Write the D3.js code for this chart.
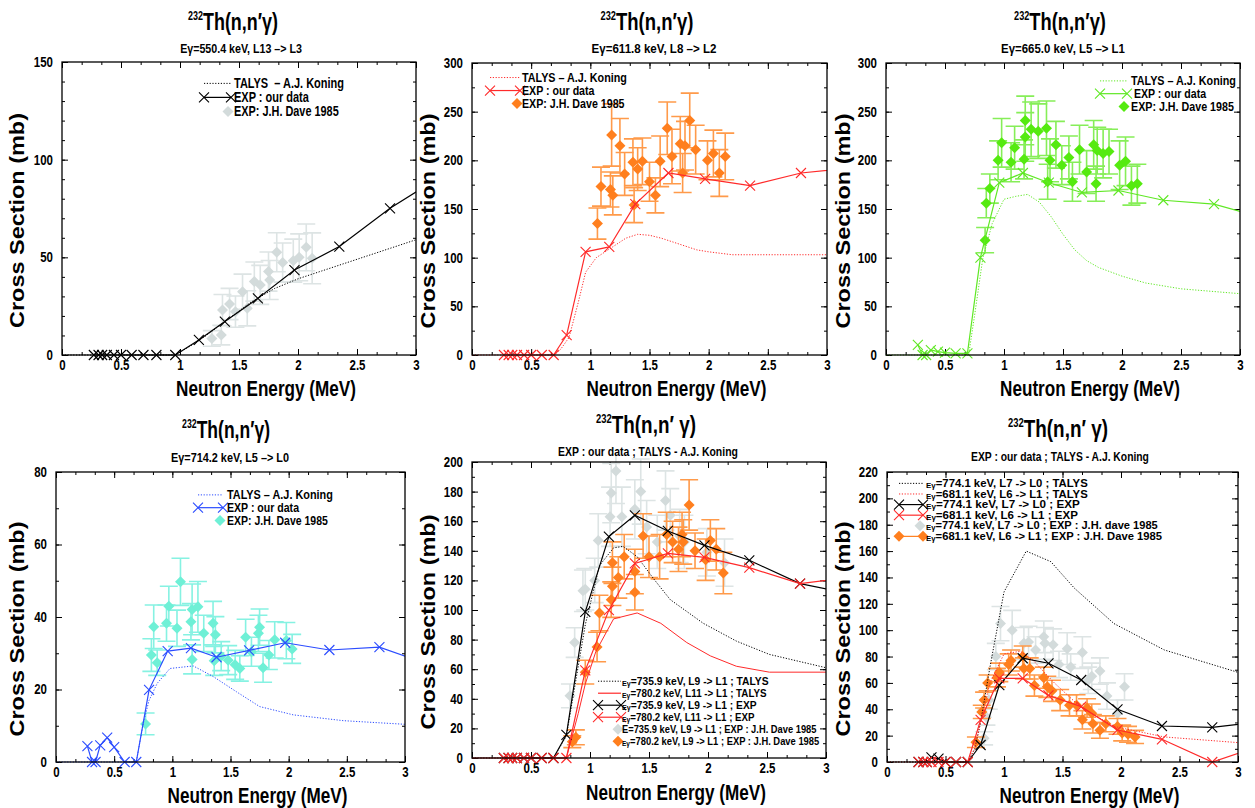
<!DOCTYPE html>
<html>
<head>
<meta charset="utf-8">
<script src="https://cdn.jsdelivr.net/npm/d3@7"></script>
<style>
  body { margin: 0; background: #fff; }
  svg text { font-family: "Liberation Sans", Arial, sans-serif; font-weight: bold; fill: #000; white-space: pre; }
  .axis text { font-size: 14px; }
</style>
</head>
<body>
<svg id="chart" width="1255" height="808"></svg>
<script>
// 232Th(n,n'g) cross sections, six panels.
var X_TICKS = [0, 0.5, 1, 1.5, 2, 2.5, 3];
var X_LABELS = ["0", "0.5", "1", "1.5", "2", "2.5", "3"];

// neutron energies of "our data" (last point lies past the axis end, line runs to the frame)
var EXP_E = [0.27, 0.31, 0.34, 0.38, 0.44, 0.50, 0.59, 0.69, 0.80, 0.96, 1.16, 1.38, 1.66, 1.97, 2.35, 2.78, 3.2];

// panel 1 : Eg=550.4 keV
var P1_EXP = [0, 0, 0, 0, 0, 0, 0, 0, 0, 0, 7.7, 17.1, 29.0, 43.5, 55.5, 75.1, 91];
var P1_TALYS_E = [0, 0.96, 1.1, 1.2, 1.4, 1.6, 1.8, 2.0, 2.2, 2.4, 2.6, 2.8, 3.0];
var P1_TALYS = [0, 0, 5, 9, 18, 27, 34, 39, 43, 47, 51, 55, 59];
var P1_DAVE_E = [1.27, 1.35, 1.36, 1.42, 1.47, 1.53, 1.57, 1.63, 1.68, 1.75, 1.76, 1.82, 1.87, 1.96, 2.01, 2.07, 2.12];
var P1_DAVE = [8.5, 10.2, 23.0, 26.1, 22.2, 32.4, 23.9, 37.6, 35.9, 42.7, 38.4, 52.6, 47.3, 48.3, 50.0, 55.1, 49.5];
var P1_DAVE_ERR = [4, 5, 8, 8, 8, 9, 9, 10, 10, 10, 10, 10, 10, 11, 12, 12, 13];

// panel 2 : Eg=611.8 keV
var P2_EXP = [0, 0, 0, 0, 0, 0, 0, 0, 20.5, 106, 111, 155, 187, 181, 174, 187, 192];
var P2_TALYS_E = [0, 0.70, 0.75, 0.82, 0.9, 0.96, 1.05, 1.2, 1.3, 1.4, 1.5, 1.6, 1.7, 1.8, 1.9, 2.0, 2.2, 2.5, 3.0];
var P2_TALYS = [0, 0, 6, 18, 55, 85, 100, 112, 120, 124, 123, 120, 116, 112, 108, 106, 103, 103, 103];
var P2_DAVE_E = [1.06, 1.09, 1.17, 1.18, 1.19, 1.25, 1.29, 1.36, 1.37, 1.40, 1.44, 1.50, 1.55, 1.59, 1.65, 1.69, 1.76, 1.78, 1.80, 1.84, 1.89, 1.99, 2.04, 2.09, 2.14];
var P2_DAVE = [135, 173, 170, 226, 164, 215, 186, 198, 154, 191, 199, 178, 164, 199, 233, 204, 217, 187, 215, 241, 211, 200, 207, 187, 204];
var P2_DAVE_ERR = [16, 20, 18, 32, 20, 28, 22, 24, 18, 22, 24, 20, 18, 26, 27, 28, 28, 20, 25, 28, 25, 20, 24, 24, 24];

// panel 3 : Eg=665.0 keV
var P3_EXP = [10.3, 0, 0, 5.1, 3.4, 2.4, 1.7, 1.7, 100, 177, 187, 177, 167, 169, 159, 155, 141];
var P3_TALYS_E = [0, 0.70, 0.75, 0.82, 0.9, 1.0, 1.1, 1.2, 1.3, 1.4, 1.5, 1.6, 1.7, 1.8, 2.0, 2.2, 2.5, 2.8, 3.0];
var P3_TALYS = [0, 0, 40, 99, 135, 160, 163, 165, 157, 142, 124, 108, 97, 90, 81, 74, 68, 65, 63];
var P3_DAVE_E = [0.84, 0.85, 0.88, 0.95, 0.98, 1.06, 1.09, 1.17, 1.18, 1.18, 1.23, 1.29, 1.36, 1.37, 1.39, 1.44, 1.49, 1.55, 1.58, 1.64, 1.70, 1.76, 1.78, 1.79, 1.84, 1.89, 1.98, 2.03, 2.08, 2.13];
var P3_DAVE = [118, 156, 171, 200, 218, 198, 213, 201, 224, 241, 232, 230, 233, 178, 200, 216, 195, 203, 178, 211, 188, 216, 176, 210, 207, 209, 195, 199, 174, 176];
var P3_DAVE_ERR = [13, 15, 15, 20, 25, 20, 22, 20, 25, 25, 28, 28, 28, 18, 22, 24, 20, 22, 20, 25, 22, 25, 18, 24, 25, 23, 25, 25, 20, 20];

// panel 4 : Eg=714.2 keV
var P4_EXP = [4.4, 0, 0, 4.6, 6.7, 4.1, 0, 0, 19.9, 30.6, 31.4, 28.9, 30.8, 32.9, 30.9, 31.7, 27];
var P4_TALYS_E = [0, 0.69, 0.75, 0.8, 0.87, 0.98, 1.18, 1.35, 1.55, 1.75, 2.04, 2.47, 3.0];
var P4_TALYS = [0, 0, 10.7, 17, 21.7, 25.8, 26.5, 23.6, 19.4, 15.3, 13, 11.4, 10.4];
var P4_DAVE_E = [0.77, 0.82, 0.84, 0.87, 0.95, 0.97, 1.04, 1.07, 1.16, 1.17, 1.17, 1.22, 1.27, 1.35, 1.36, 1.37, 1.42, 1.48, 1.54, 1.58, 1.63, 1.68, 1.74, 1.75, 1.78, 1.83, 1.88, 1.98, 2.03];
var P4_DAVE = [10.5, 29.5, 37.3, 27.4, 38.3, 43.0, 36.9, 49.7, 38.7, 42.1, 28.3, 42.8, 35.5, 38.3, 27.9, 35.1, 29.2, 28.1, 26.8, 25.8, 34.4, 30.4, 35.5, 37.2, 26.0, 29.5, 33.7, 33.5, 31.2];
var P4_DAVE_ERR = [3, 4.5, 6, 3.5, 5, 5.5, 5, 6.5, 5, 7, 4, 7, 5, 6, 4, 5, 4, 4, 4, 3.5, 5, 4, 5, 5, 4, 4, 5, 5, 4];

// panel 5 : Eg=735.9 keV (black) and 780.2 keV (red)
var P5_EXP_A = [0, 0, 0, 0, 0, 0, 0, 0, 15.6, 98.8, 149.6, 164, 153.4, 143.7, 133.6, 117.8, 111];
var P5_EXP_B = [0, 0, 0, 0, 0, 0, 0, 0, 0, 59.2, 99.9, 131.5, 138.3, 135.6, 128.6, 117.8, 122];
var P5_TALYS_A_E = [0, 0.69, 0.80, 0.96, 1.08, 1.2, 1.28, 1.4, 1.54, 1.68, 1.96, 2.24, 2.52, 3.0];
var P5_TALYS_A = [0, 0, 15, 90, 130, 142, 143, 136, 121, 107, 91, 79, 70, 61];
var P5_TALYS_B_E = [0, 0.80, 0.9, 0.96, 1.05, 1.2, 1.4, 1.6, 1.82, 2.02, 2.24, 2.52, 3.0];
var P5_TALYS_B = [0, 0, 30, 50, 72, 94, 98, 91, 78, 69, 62, 58, 58];
var P5_DAVE_A_E = [0.83, 0.87, 0.94, 0.96, 1.04, 1.07, 1.17, 1.18, 1.22, 1.27, 1.38, 1.43, 1.48, 1.57, 1.64, 1.68, 1.76, 1.80, 1.99, 2.14];
var P5_DAVE_A = [42, 78, 113, 114, 120, 147, 163, 179, 194, 163, 168, 180, 156, 146, 174, 164, 150, 146, 139, 132];
var P5_DAVE_A_ERR = [8, 10, 14, 14, 15, 18, 20, 20, 22, 20, 20, 22, 18, 18, 20, 18, 18, 18, 16, 16];
var P5_DAVE_B_E = [0.85, 0.88, 0.96, 1.06, 1.08, 1.18, 1.19, 1.19, 1.24, 1.29, 1.38, 1.38, 1.45, 1.50, 1.59, 1.65, 1.70, 1.75, 1.78, 1.79, 1.84, 1.89, 1.98, 2.02, 2.07, 2.13];
var P5_DAVE_B = [11, 14, 58, 75, 98, 107, 116, 132, 122, 136, 126, 112, 150, 136, 136, 151, 146, 141, 151, 146, 171, 140, 134, 147, 141, 125];
var P5_DAVE_B_ERR = [4, 5, 8, 10, 12, 12, 13, 14, 14, 15, 15, 12, 15, 14, 15, 15, 14, 15, 15, 15, 17, 12, 14, 14, 14, 14];

// panel 6 : Eg=774.1 keV (black) and 681.1 keV (red)
var P6_EXP_A = [0, 0, 0, 3.5, 2.6, 0, 0, 0, 12.9, 58.4, 78.7, 74.9, 62.2, 40, 27.3, 26.3, 30.5];
var P6_EXP_B = [0, 0, 0, 0, 0, 0, 0, 0, 31.9, 63.5, 63.5, 50.5, 42, 24.3, 17.2, 0, 12.6];
var P6_TALYS_A_E = [0, 0.69, 0.75, 0.80, 0.88, 1.0, 1.19, 1.4, 1.6, 1.94, 2.37, 3.0];
var P6_TALYS_A = [0, 0, 10, 30, 72, 129, 160, 152, 132, 105, 85, 68];
var P6_TALYS_B_E = [0, 0.69, 0.75, 0.8, 0.88, 1.0, 1.14, 1.25, 1.43, 1.65, 1.94, 2.37, 3.0];
var P6_TALYS_B = [0, 0, 10, 30, 60, 82, 84, 77, 60, 42, 27, 19, 14.7];
var P6_DAVE_A_E = [0.83, 0.85, 0.87, 0.93, 0.97, 1.07, 1.17, 1.21, 1.27, 1.34, 1.35, 1.42, 1.47, 1.54, 1.57, 1.67, 1.72, 1.75, 1.82, 1.88, 1.97, 2.03];
var P6_DAVE_A = [18, 34, 47, 80, 105, 100, 90, 91, 85, 95, 90, 89, 74, 86, 72, 83, 62, 65, 69, 50, 37, 57];
var P6_DAVE_A_ERR = [5, 6, 7, 10, 13, 15, 12, 12, 10, 12, 12, 12, 10, 12, 10, 12, 10, 10, 10, 10, 10, 10];
var P6_DAVE_B_E = [0.76, 0.81, 0.83, 0.86, 0.94, 0.96, 1.04, 1.06, 1.16, 1.17, 1.22, 1.26, 1.34, 1.37, 1.41, 1.48, 1.56, 1.62, 1.67, 1.71, 1.75, 1.76, 1.82, 1.87, 1.97, 2.01, 2.06, 2.12];
var P6_DAVE_B = [15, 38, 47, 60, 64, 68, 74, 77, 80, 71, 71, 58, 64, 57, 54, 47, 43, 43, 32, 41, 37, 29, 24, 29, 27, 22, 21, 19];
var P6_DAVE_B_ERR = [4, 5, 6, 6, 7, 7, 8, 8, 8, 8, 8, 8, 8, 8, 8, 8, 8, 8, 7, 7, 7, 7, 6, 6, 6, 6, 6, 5];

var RED = "#ff2a2a", ORANGE = "#ff7f1e", ORANGE_BAR = "#ff9a4a", GREY = "#d3dbdb", GREY_BAR = "#dde4e4";
var GREEN = "#5fe824", GREEN_PT = "#55ea10", GREEN_BAR = "#86ee58", BLUE = "#2b4cff", CYAN = "#6ff0d6", CYAN_BAR = "#86f2e2";

var PANELS = [
  { box: { left: 62, right: 416, top: 62, bottom: 355 }, ymax: 150, yStep: 50, yMinor: 10,
    titleX: 233, titleY: 30, titleW: 90, sub: "E\u03b3=550.4 keV, L13 \u2013> L3", subX: 241, subY: 53, subW: 122,
    xTitleY: 396, yTitleX: 17, space: "",
    talys: [{ e: P1_TALYS_E, v: P1_TALYS, color: "#000" }],
    exp: [{ v: P1_EXP, color: "#000" }],
    dave: [{ e: P1_DAVE_E, v: P1_DAVE, err: P1_DAVE_ERR, color: GREY, bar: GREY_BAR }],
    legend: { x0: 204, x1: 231, tx: 234, y0: 88, dy: 14, size: 14, rows: [
      { kind: "talys", color: "#000", w: 110, text: "TALYS  \u2013 A.J. Koning" },
      { kind: "exp", color: "#000", w: 75, text: "EXP : our data" },
      { kind: "dave", color: GREY, w: 105, text: "EXP: J.H. Dave 1985" }] } },
  { box: { left: 472, right: 827, top: 63, bottom: 355 }, ymax: 300, yStep: 50, yMinor: 25,
    titleX: 647, titleY: 30, titleW: 93, sub: "E\u03b3=611.8 keV, L8 \u2013> L2", subX: 654, subY: 53, subW: 125,
    xTitleY: 396, yTitleX: 428, space: "",
    talys: [{ e: P2_TALYS_E, v: P2_TALYS, color: RED }],
    exp: [{ v: P2_EXP, color: RED }],
    dave: [{ e: P2_DAVE_E, v: P2_DAVE, err: P2_DAVE_ERR, color: ORANGE, bar: ORANGE_BAR }],
    legend: { x0: 490, x1: 520, tx: 522, y0: 82, dy: 13, size: 13.5, rows: [
      { kind: "talys", color: RED, w: 105, text: "TALYS \u2013 A.J. Koning" },
      { kind: "exp", color: RED, w: 73, text: "EXP : our data" },
      { kind: "dave", color: ORANGE, w: 103, text: "EXP: J.H. Dave 1985" }] } },
  { box: { left: 886, right: 1240, top: 63, bottom: 355 }, ymax: 300, yStep: 50, yMinor: 25,
    titleX: 1060, titleY: 30, titleW: 92, sub: "E\u03b3=665.0 keV, L5 \u2013> L1", subX: 1063, subY: 53, subW: 124,
    xTitleY: 396, yTitleX: 843, space: "",
    talys: [{ e: P3_TALYS_E, v: P3_TALYS, color: GREEN }],
    exp: [{ v: P3_EXP, color: GREEN }],
    dave: [{ e: P3_DAVE_E, v: P3_DAVE, err: P3_DAVE_ERR, color: GREEN_PT, bar: GREEN_BAR }],
    legend: { x0: 1100, x1: 1127, tx: 1131, y0: 85, dy: 12.8, size: 12.5, rows: [
      { kind: "talys", color: GREEN, w: 105, text: "TALYS \u2013 A.J. Koning" },
      { kind: "exp", color: GREEN, w: 76, text: " EXP : our data" },
      { kind: "dave", color: GREEN_PT, w: 103, text: "EXP: J.H. Dave 1985" }] } },
  { box: { left: 56, right: 405, top: 472, bottom: 762 }, ymax: 80, yStep: 20, yMinor: 10,
    titleX: 226, titleY: 438, titleW: 88, sub: "E\u03b3=714.2 keV, L5 \u2013> L0", subX: 230, subY: 462, subW: 118,
    xTitleY: 803, yTitleX: 17, space: "",
    talys: [{ e: P4_TALYS_E, v: P4_TALYS, color: BLUE }],
    exp: [{ v: P4_EXP, color: BLUE }],
    dave: [{ e: P4_DAVE_E, v: P4_DAVE, err: P4_DAVE_ERR, color: CYAN, bar: CYAN_BAR }],
    legend: { x0: 198, x1: 223, tx: 227, y0: 499, dy: 12.8, size: 12.5, rows: [
      { kind: "talys", color: BLUE, w: 106, text: "TALYS \u2013 A.J. Koning" },
      { kind: "exp", color: BLUE, w: 73, text: "EXP : our data" },
      { kind: "dave", color: CYAN, w: 101, text: "EXP: J.H. Dave 1985" }] } },
  { box: { left: 472, right: 826, top: 462, bottom: 758 }, ymax: 200, yStep: 20, yMinor: 10,
    titleX: 646, titleY: 433, titleW: 100, sub: "EXP : our data ; TALYS - A.J. Koning", subX: 648, subY: 456, subW: 180,
    xTitleY: 800, yTitleX: 428, space: " ",
    talys: [{ e: P5_TALYS_A_E, v: P5_TALYS_A, color: "#000" }, { e: P5_TALYS_B_E, v: P5_TALYS_B, color: RED, solid: true }],
    exp: [{ v: P5_EXP_A, color: "#000" }, { v: P5_EXP_B, color: RED }],
    dave: [{ e: P5_DAVE_A_E, v: P5_DAVE_A, err: P5_DAVE_A_ERR, color: GREY, bar: GREY_BAR },
           { e: P5_DAVE_B_E, v: P5_DAVE_B, err: P5_DAVE_B_ERR, color: ORANGE, bar: ORANGE_BAR }],
    legend: { x0: 598, x1: 621, tx: 622, y0: 685, dy: 12, size: 11.5, rows: [
      { kind: "talys", color: "#000", eg: true, w: 147, text: "=735.9 keV, L9 -> L1 ; TALYS" },
      { kind: "solid", color: RED, eg: true, w: 145, text: "=780.2 keV, L11 -> L1 ; TALYS" },
      { kind: "exp", color: "#000", eg: true, w: 135, text: "=735.9 keV, L9 -> L1 ; EXP" },
      { kind: "exp", color: RED, eg: true, w: 133, text: "=780.2 keV, L11 -> L1 ; EXP" },
      { kind: "dave", color: GREY, w: 195, text: "E=735.9 keV, L9 -> L1 ; EXP : J.H. Dave 1985" },
      { kind: "dave", color: ORANGE, eg: true, w: 198, text: "=780.2 keV, L9 -> L1 ; EXP : J.H. Dave 1985" }] } },
  { box: { left: 887, right: 1238, top: 472, bottom: 762 }, ymax: 220, yStep: 20, yMinor: 10,
    titleX: 1058, titleY: 437, titleW: 100, sub: "EXP : our data ; TALYS - A.J. Koning", subX: 1060, subY: 461, subW: 178,
    xTitleY: 803, yTitleX: 843, space: " ",
    talys: [{ e: P6_TALYS_A_E, v: P6_TALYS_A, color: "#000" }, { e: P6_TALYS_B_E, v: P6_TALYS_B, color: RED }],
    exp: [{ v: P6_EXP_A, color: "#000" }, { v: P6_EXP_B, color: RED }],
    dave: [{ e: P6_DAVE_A_E, v: P6_DAVE_A, err: P6_DAVE_A_ERR, color: GREY, bar: GREY_BAR },
           { e: P6_DAVE_B_E, v: P6_DAVE_B, err: P6_DAVE_B_ERR, color: ORANGE, bar: ORANGE_BAR }],
    legend: { x0: 899, x1: 923, tx: 926, y0: 487, dy: 10.6, size: 11, rows: [
      { kind: "talys", color: "#000", eg: true, w: 162, text: "=774.1 keV, L7 -> L0 ; TALYS" },
      { kind: "talys", color: RED, eg: true, w: 162, text: "=681.1 keV, L6 -> L1 ; TALYS" },
      { kind: "exp", color: "#000", eg: true, w: 154, text: "=774.1 keV, L7 -> L0 ; EXP" },
      { kind: "exp", color: RED, eg: true, w: 152, text: "=681.1 keV, L6 -> L1 ; EXP" },
      { kind: "dave", color: GREY, eg: true, w: 232, text: "=774.1 keV, L7 -> L0 ; EXP : J.H. dave 1985" },
      { kind: "daveline", color: ORANGE, eg: true, w: 236, text: "=681.1 keV, L6 -> L1 ; EXP : J.H. Dave 1985" }] } }
];

var CROSS = "M-5,-5L5,5M-5,5L5,-5";
var DIAMOND = "M0,-5.5L5.5,0L0,5.5L-5.5,0Z";

var svg = d3.select("#chart");

// text squeezed horizontally to the width it has in the figure (the original face is condensed)
function fitText(parent, x, y, width, size, anchor, rotate, build) {
  var holder = parent.append("g").attr("transform", "translate(" + x + "," + y + ")" + (rotate ? " rotate(-90)" : ""));
  var t = holder.append("text").attr("font-size", size).attr("text-anchor", anchor);
  build(t);
  var w = t.node().getBBox().width;
  if (w > 0) t.attr("transform", "scale(" + (width / w) + ",1)");
  return t;
}

function drawPanel(p, idx) {
  var b = p.box;
  var x = d3.scaleLinear().domain([0, 3]).range([b.left, b.right]);
  var y = d3.scaleLinear().domain([0, p.ymax]).range([b.bottom, b.top]);
  var g = svg.append("g");

  var clipId = "clip" + idx;
  svg.append("clipPath").attr("id", clipId).append("rect")
    .attr("x", b.left - 7).attr("y", b.top - 7)
    .attr("width", b.right - b.left + 7).attr("height", b.bottom - b.top + 14);

  // ticks on all four sides, pointing inwards
  var xMinor = d3.range(0, 3.001, 1 / 6);
  var yMajor = d3.range(0, p.ymax + 0.001, p.yStep);
  var yMinor = d3.range(0, p.ymax + 0.001, p.yMinor);
  function noDomain(a) { a.select(".domain").remove(); }
  g.append("g").attr("class", "axis").attr("transform", "translate(0," + b.bottom + ")")
    .call(d3.axisBottom(x).tickValues(X_TICKS).tickFormat(function (d, i) { return X_LABELS[i]; })
      .tickSize(-6).tickPadding(5)).call(noDomain);
  g.append("g").attr("transform", "translate(0," + b.bottom + ")")
    .call(d3.axisBottom(x).tickValues(xMinor).tickSize(-3).tickFormat("")).call(noDomain);
  g.append("g").attr("transform", "translate(0," + b.top + ")")
    .call(d3.axisTop(x).tickValues(X_TICKS).tickSize(-6).tickFormat("")).call(noDomain);
  g.append("g").attr("transform", "translate(0," + b.top + ")")
    .call(d3.axisTop(x).tickValues(xMinor).tickSize(-3).tickFormat("")).call(noDomain);
  g.append("g").attr("class", "axis").attr("transform", "translate(" + b.left + ",0)")
    .call(d3.axisLeft(y).tickValues(yMajor).tickFormat(d3.format("d")).tickSize(-6).tickPadding(11)).call(noDomain);
  g.append("g").attr("transform", "translate(" + b.left + ",0)")
    .call(d3.axisLeft(y).tickValues(yMinor).tickSize(-3).tickFormat("")).call(noDomain);
  g.append("g").attr("transform", "translate(" + b.right + ",0)")
    .call(d3.axisRight(y).tickValues(yMajor).tickSize(-6).tickFormat("")).call(noDomain);
  g.append("g").attr("transform", "translate(" + b.right + ",0)")
    .call(d3.axisRight(y).tickValues(yMinor).tickSize(-3).tickFormat("")).call(noDomain);
  g.selectAll(".axis text").attr("font-size", null).attr("transform", "scale(0.82,1)");

  var data = g.append("g").attr("clip-path", "url(#" + clipId + ")");

  // Dave 1985 points with error bars
  p.dave.forEach(function (s) {
    var pts = d3.range(s.e.length).map(function (i) { return { e: s.e[i], v: s.v[i], err: s.err[i] }; });
    data.append("g").selectAll("path").data(pts).join("path")
      .attr("d", function (d) {
        var cx = x(d.e), lo = y(d.v - d.err), hi = y(d.v + d.err);
        return "M" + cx + "," + lo + "V" + hi + "M" + (cx - 9) + "," + lo + "H" + (cx + 9) + "M" + (cx - 9) + "," + hi + "H" + (cx + 9);
      })
      .attr("fill", "none").attr("stroke", s.bar).attr("stroke-width", 1.6);
    data.append("g").selectAll("path").data(pts).join("path")
      .attr("transform", function (d) { return "translate(" + x(d.e) + "," + y(d.v) + ")"; })
      .attr("d", DIAMOND).attr("fill", s.color);
  });

  // TALYS curves
  var line = d3.line().x(function (d) { return x(d[0]); }).y(function (d) { return y(d[1]); });
  p.talys.forEach(function (s) {
    data.append("path").datum(d3.zip(s.e, s.v)).attr("d", line)
      .attr("fill", "none").attr("stroke", s.color).attr("stroke-width", 1)
      .attr("stroke-dasharray", s.solid ? null : "1.2,1.6");
  });

  // our data
  p.exp.forEach(function (s) {
    var pts = d3.zip(EXP_E, s.v);
    data.append("path").datum(pts).attr("d", line)
      .attr("fill", "none").attr("stroke", s.color).attr("stroke-width", 1.2);
    data.append("g").selectAll("path").data(pts).join("path")
      .attr("transform", function (d) { return "translate(" + x(d[0]) + "," + y(d[1]) + ")"; })
      .attr("d", CROSS).attr("fill", "none").attr("stroke", s.color).attr("stroke-width", 1.1);
  });

  // frame
  g.append("rect").attr("x", b.left).attr("y", b.top)
    .attr("width", b.right - b.left).attr("height", b.bottom - b.top)
    .attr("fill", "none").attr("stroke", "#000").attr("stroke-width", 1.3);

  // titles
  fitText(g, p.titleX, p.titleY, p.titleW, 24, "middle", false, function (t) {
    t.append("tspan").attr("font-size", 12).attr("dy", -10).text("232");
    t.append("tspan").attr("dy", 10).text("Th(n,n\u2032" + p.space + "\u03b3)");
  });
  fitText(g, p.subX, p.subY, p.subW, 13, "middle", false, function (t) { t.text(p.sub); });
  fitText(g, (b.left + b.right) / 2 + 27, p.xTitleY, 180, 22, "middle", false, function (t) { t.text("Neutron Energy (MeV)"); });
  fitText(g, p.yTitleX + 7, (b.top + b.bottom) / 2 + 12, 215, 21, "middle", true, function (t) { t.text("Cross Section (mb)"); });

  // legend
  var L = p.legend;
  L.rows.forEach(function (r, i) {
    var by = L.y0 + i * L.dy, cy = by - L.size * 0.33;
    var lg = g.append("g");
    if (r.kind === "talys" || r.kind === "solid" || r.kind === "exp" || r.kind === "daveline") {
      lg.append("line").attr("x1", L.x0).attr("x2", L.x1).attr("y1", cy).attr("y2", cy)
        .attr("stroke", r.color).attr("stroke-width", r.kind === "talys" ? 1 : 1.2)
        .attr("stroke-dasharray", r.kind === "talys" ? "1.2,1.6" : null);
    }
    if (r.kind === "exp") {
      lg.selectAll("path").data([L.x0, L.x1]).join("path")
        .attr("transform", function (d) { return "translate(" + d + "," + cy + ")"; })
        .attr("d", CROSS).attr("fill", "none").attr("stroke", r.color).attr("stroke-width", 1.1);
    }
    if (r.kind === "dave" || r.kind === "daveline") {
      lg.selectAll("path").data(r.kind === "dave" ? [L.x1 - 3] : [L.x0, L.x1]).join("path")
        .attr("transform", function (d) { return "translate(" + d + "," + cy + ")"; })
        .attr("d", DIAMOND).attr("fill", r.color);
    }
    fitText(lg, L.tx, by, r.w, L.size, "start", false, function (t) {
      if (r.eg) t.append("tspan").attr("font-size", L.size * 0.7).attr("dy", 1).text("E\u03b3");
      t.append("tspan").attr("dy", r.eg ? -1 : 0).text(r.text);
    });
  });
}

PANELS.forEach(drawPanel);
</script>
</body>
</html>
